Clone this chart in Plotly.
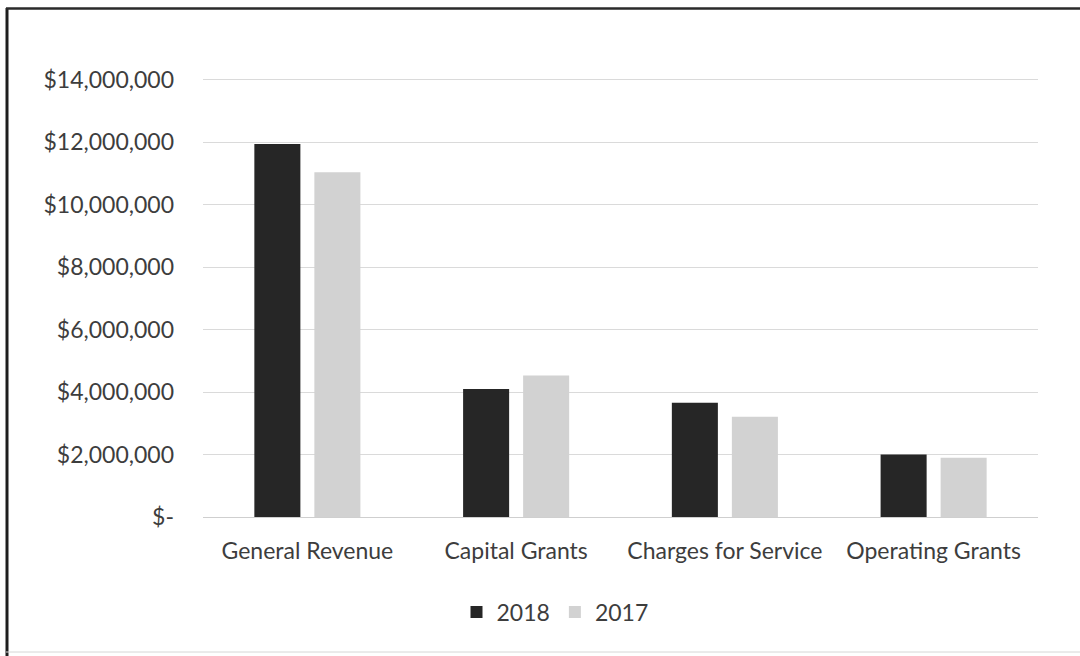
import plotly.graph_objects as go

categories = ["General Revenue", "Capital Grants", "Charges for Service", "Operating Grants"]
values_2018 = [11950000, 4100000, 3660000, 2000000]
values_2017 = [11040000, 4530000, 3210000, 1900000]
tick_values = [0, 2000000, 4000000, 6000000, 8000000, 10000000, 12000000, 14000000]
tick_labels = ["$-", "$2,000,000", "$4,000,000", "$6,000,000", "$8,000,000",
               "$10,000,000", "$12,000,000", "$14,000,000"]

FONT = "Lato"
TXT = "#3d3d3d"
FS = 23

# plot area in pixels
YMAX = 14060000
L, R, B = 203, 1038, 517
T = round(B - 437 * YMAX / 14000000)
W, H = 1080, 656
pw, ph = R - L, B - T

def px(x):
    return (x - L) / pw

def py(y):
    return (B - y) / ph

fig = go.Figure()
fig.add_trace(go.Bar(name="2018", x=categories, y=values_2018,
                     marker=dict(color="#262626", line=dict(width=0))))
fig.add_trace(go.Bar(name="2017", x=categories, y=values_2017,
                     marker=dict(color="#d2d2d2", line=dict(width=0))))

fig.update_layout(
    width=W, height=H,
    margin=dict(l=L, r=W - R, t=T, b=H - B, pad=0),
    paper_bgcolor="white", plot_bgcolor="white",
    barmode="group", bargap=0.425, bargroupgap=0.233,
    font=dict(family=FONT, size=FS, color=TXT),
    showlegend=True,
    legend=dict(orientation="h", x=px(555), y=py(612), xanchor="center", yanchor="middle",
                font=dict(family=FONT, size=FS, color=TXT), itemwidth=30,
                traceorder="normal", bgcolor="rgba(0,0,0,0)"),
    xaxis=dict(showgrid=False, showline=False, ticks="", ticklabelstandoff=18,
               tickfont=dict(family=FONT, size=FS, color=TXT)),
    yaxis=dict(range=[0, YMAX], tickvals=tick_values, ticktext=tick_labels,
               showgrid=True, gridcolor="#dadada", gridwidth=1,
               zeroline=True, zerolinecolor="#cfcfcf", zerolinewidth=1,
               showline=False, ticks="", ticklabelstandoff=28,
               tickfont=dict(family=FONT, size=FS, color=TXT)),
    shapes=[
        dict(type="line", xref="paper", yref="paper", x0=px(7), x1=px(7), y0=py(8), y1=py(656),
             line=dict(color="#1e1e1e", width=3)),
        dict(type="line", xref="paper", yref="paper", x0=px(6), x1=px(1080), y0=py(8.5), y1=py(8.5),
             line=dict(color="#2a2a2a", width=2.5)),
        dict(type="line", xref="paper", yref="paper", x0=px(6), x1=px(1080), y0=py(652), y1=py(652),
             line=dict(color="#d6d6d6", width=1)),
    ],
)

fig.write_html("out.html", config={"displayModeBar": False},
               post_script="document.body.style.margin='0';")
